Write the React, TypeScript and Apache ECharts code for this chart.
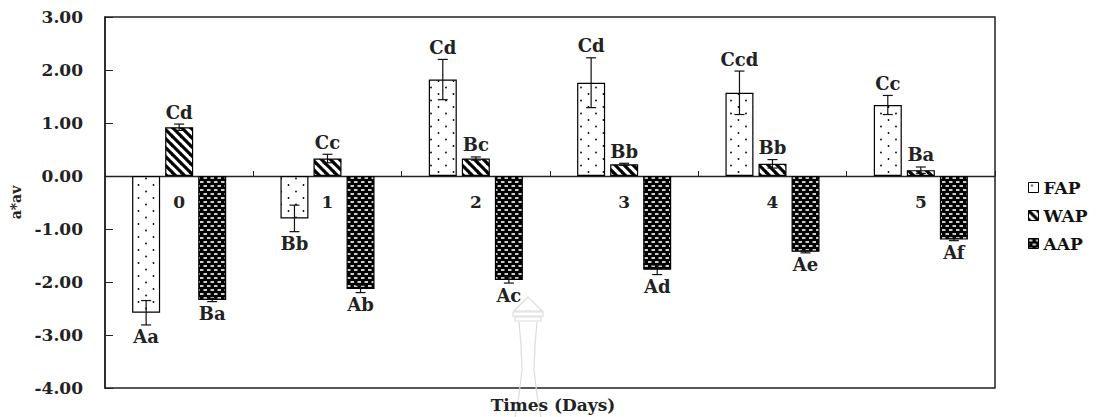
import React, { useEffect, useRef } from "react";
import * as echarts from "echarts";

const days = ["0", "1", "2", "3", "4", "5"];
const seriesNames = ["FAP", "WAP", "AAP"];
const fapValues = [-2.58, -0.8, 1.82, 1.76, 1.57, 1.34];
const wapValues = [0.92, 0.33, 0.33, 0.22, 0.23, 0.11];
const aapValues = [-2.34, -2.13, -1.96, -1.77, -1.43, -1.2];
const fapErrors = [0.23, 0.25, 0.38, 0.47, 0.41, 0.18];
const wapErrors = [0.06, 0.08, 0.03, 0.02, 0.08, 0.06];
const aapErrors = [0.03, 0.07, 0.06, 0.09, 0.02, 0.02];
const fapLetters = ["Aa", "Bb", "Cd", "Cd", "Ccd", "Cc"];
const wapLetters = ["Cd", "Cc", "Bc", "Bb", "Bb", "Ba"];
const aapLetters = ["Ba", "Ab", "Ac", "Ad", "Ae", "Af"];
const yTicks = [-4, -3, -2, -1, 0, 1, 2, 3];

const SERIF = "DejaVu Serif";

function makeCanvas(w: number, h: number, draw: (c: CanvasRenderingContext2D) => void) {
  const cv = document.createElement("canvas");
  cv.width = w;
  cv.height = h;
  const ctx = cv.getContext("2d")!;
  draw(ctx);
  return cv;
}

export default function App() {
  const ref = useRef<HTMLDivElement>(null);
  useEffect(() => {
    if (!ref.current) return;
    const chart = echarts.init(ref.current, undefined, { renderer: "svg" });

    const dots = makeCanvas(15, 13, (c) => {
      c.fillStyle = "#fff";
      c.fillRect(0, 0, 15, 13);
      c.fillStyle = "#000";
      c.beginPath();
      c.arc(3.5, 3, 0.9, 0, Math.PI * 2);
      c.fill();
      c.beginPath();
      c.arc(11, 9.5, 0.9, 0, Math.PI * 2);
      c.fill();
    });
    const stripes = makeCanvas(9, 9, (c) => {
      c.fillStyle = "#fff";
      c.fillRect(0, 0, 9, 9);
      c.strokeStyle = "#000";
      c.lineWidth = 3.2;
      for (let k = -1; k <= 1; k++) {
        c.beginPath();
        c.moveTo(k * 9 - 1, -1);
        c.lineTo(k * 9 + 10, 10);
        c.stroke();
      }
    });
    const dashes = makeCanvas(7, 8, (c) => {
      c.fillStyle = "#000";
      c.fillRect(0, 0, 7, 8);
      c.fillStyle = "#fff";
      c.fillRect(0.5, 1.2, 3.5, 1.6);
      c.fillRect(4, 5.2, 3.5, 1.6);
      c.fillRect(-3, 5.2, 3.5, 1.6);
    });

    const patterns = [
      { image: dots, repeat: "repeat" },
      { image: stripes, repeat: "repeat" },
      { image: dashes, repeat: "repeat" },
    ];
    const values = [fapValues, wapValues, aapValues];
    const errors = [fapErrors, wapErrors, aapErrors];
    const letters = [fapLetters, wapLetters, aapLetters];

    const barWidth = 28;
    const barGapPx = 5.04;

    const customData: any[] = [];
    for (let s = 0; s < 3; s++) {
      for (let i = 0; i < days.length; i++) {
        customData.push([i, s, values[s][i], errors[s][i], letters[s][i]]);
      }
    }
    const catLabelData = days.map((d, i) => [i, 0, d]);

    const barSeries = seriesNames.map((name, s) => ({
      name,
      type: "bar",
      data: values[s],
      barWidth,
      barGap: "18%",
      itemStyle: {
        color: patterns[s] as any,
        borderColor: "#000",
        borderWidth: 1.2,
      },
      z: 2,
    }));

    const option: any = {
      animation: false,
      backgroundColor: "#fff",
      grid: {
        left: 105,
        top: 17,
        width: 890,
        height: 371,
        show: true,
        borderColor: "#222",
        borderWidth: 1.5,
        backgroundColor: "transparent",
      },
      legend: {
        orient: "vertical",
        left: 1023,
        top: 174,
        itemWidth: 10,
        itemHeight: 10,
        itemGap: 11,
        icon: "rect",
        data: seriesNames,
        textStyle: { fontFamily: SERIF, fontWeight: "bold", fontSize: 17, color: "#111" },
        itemStyle: { borderColor: "#000", borderWidth: 1 },
      },
      xAxis: {
        type: "category",
        data: days,
        axisLine: { onZero: true, lineStyle: { color: "#222", width: 1.3 } },
        axisTick: { show: true, inside: true, length: 5, lineStyle: { color: "#222" } },
        axisLabel: { show: false },
        splitLine: { show: false },
      },
      yAxis: {
        type: "value",
        min: yTicks[0],
        max: yTicks[yTicks.length - 1],
        interval: 1,
        name: "a*av",
        nameLocation: "middle",
        nameGap: 82,
        nameRotate: 90,
        nameTextStyle: { fontFamily: SERIF, fontWeight: "bold", fontSize: 14, color: "#222" },
        axisLine: { show: true, lineStyle: { color: "#222", width: 1.5 } },
        axisTick: { show: true, inside: true, length: 8, lineStyle: { color: "#222" } },
        axisLabel: {
          margin: 22,
          formatter: (v: number) => v.toFixed(2),
          fontFamily: SERIF,
          fontWeight: "bold",
          fontSize: 17,
          color: "#222",
        },
        splitLine: { show: false },
      },
      series: [
        ...barSeries,
        {
          type: "custom",
          z: 5,
          silent: true,
          data: customData,
          renderItem: (params: any, api: any) => {
            const cat = api.value(0);
            const s = api.value(1);
            const v = api.value(2);
            const e = api.value(3);
            const label = customData[params.dataIndex][4];
            const base = api.coord([cat, v]);
            const x = base[0] + (s - 1) * (barWidth + barGapPx);
            const yHi = api.coord([cat, v + e])[1];
            const yLo = api.coord([cat, v - e])[1];
            const cap = 5;
            const ls = { stroke: "#111", lineWidth: 1.2 };
            const textY = v >= 0 ? yHi - 12 : yLo + 12;
            return {
              type: "group",
              children: [
                { type: "line", shape: { x1: x, y1: yHi, x2: x, y2: yLo }, style: ls },
                { type: "line", shape: { x1: x - cap, y1: yHi, x2: x + cap, y2: yHi }, style: ls },
                { type: "line", shape: { x1: x - cap, y1: yLo, x2: x + cap, y2: yLo }, style: ls },
                {
                  type: "text",
                  style: {
                    text: label,
                    x,
                    y: textY,
                    align: "center",
                    verticalAlign: "middle",
                    font: `bold 18px ${SERIF}`,
                    fill: "#222",
                  },
                },
              ],
            };
          },
        },
        {
          type: "custom",
          z: 5,
          silent: true,
          data: catLabelData,
          renderItem: (params: any, api: any) => {
            const p = api.coord([api.value(0), 0]);
            return {
              type: "text",
              style: {
                text: catLabelData[params.dataIndex][2],
                x: p[0],
                y: p[1] + 26,
                align: "center",
                verticalAlign: "middle",
                font: `bold 17px ${SERIF}`,
                fill: "#222",
              },
            };
          },
        },
      ],
      graphic: [
        {
          type: "group",
          silent: true,
          z: 0,
          children: [
            { type: "polygon", shape: { points: [[528, 297], [514, 311], [542, 311]] }, style: { fill: "none", stroke: "#dcdcdc", lineWidth: 1.2 } },
            { type: "rect", shape: { x: 513, y: 312, width: 30, height: 4 }, style: { fill: "none", stroke: "#dcdcdc", lineWidth: 1.2 } },
            { type: "rect", shape: { x: 515, y: 317, width: 26, height: 4 }, style: { fill: "none", stroke: "#dcdcdc", lineWidth: 1.2 } },
            { type: "polyline", shape: { points: [[519, 322], [521, 345], [522, 370], [519, 395], [515, 417]] }, style: { stroke: "#dcdcdc", lineWidth: 1.2 } },
            { type: "polyline", shape: { points: [[537, 322], [535, 345], [534, 370], [537, 395], [541, 417]] }, style: { stroke: "#dcdcdc", lineWidth: 1.2 } },
          ],
        },
        {
          type: "text",
          x: 553,
          y: 405,
          style: {
            text: "Times (Days)",
            x: 0,
            y: 0,
            align: "center",
            verticalAlign: "middle",
            font: `bold 17px ${SERIF}`,
            fill: "#222",
          },
        },
      ],
    };

    chart.setOption(option);
    return () => chart.dispose();
  }, []);

  return (
    <div
      ref={ref}
      style={{ position: "absolute", left: 0, top: 0, width: 1102, height: 417, background: "#fff" }}
    />
  );
}
